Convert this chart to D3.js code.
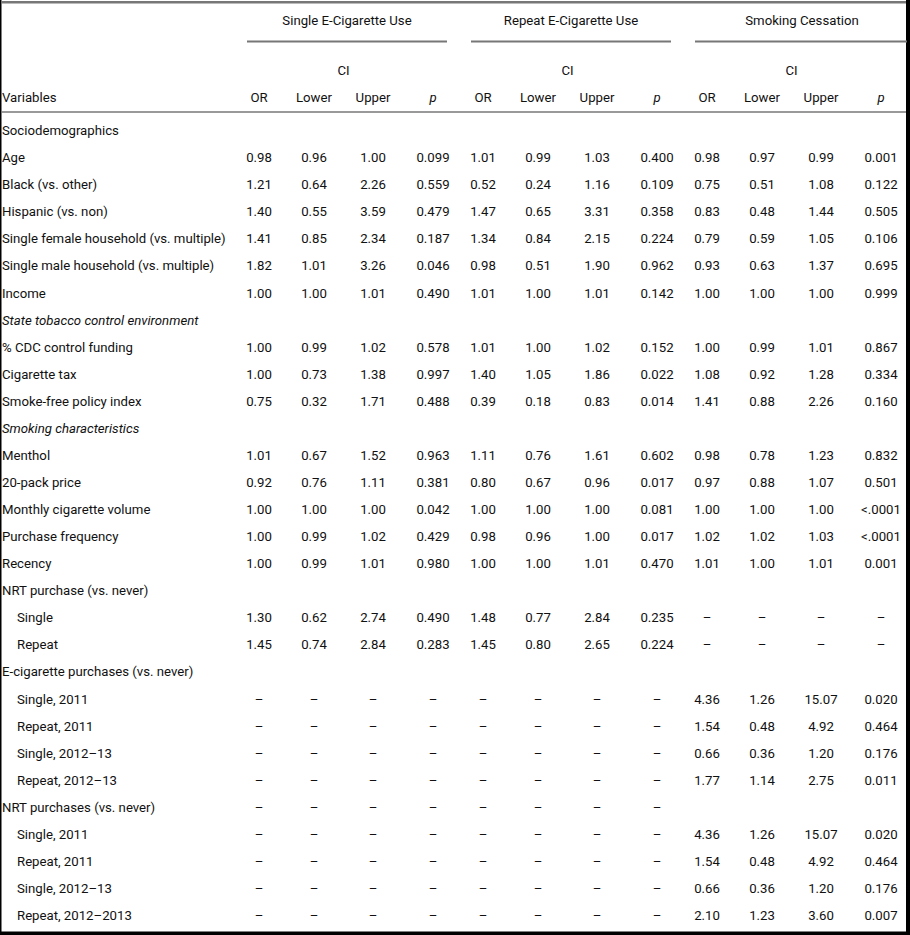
<!DOCTYPE html>
<html>
<head>
<meta charset="utf-8">
<script src="https://cdn.jsdelivr.net/npm/d3@7/dist/d3.min.js"></script>
<style>
  html, body { margin: 0; padding: 0; background: #fff; }
  svg { display: block; }
  text { font-family: Roboto, "Liberation Sans", Arial, sans-serif; font-size: 13.2px; fill: #111; }
</style>
</head>
<body>
<svg id="tbl" width="910" height="935"></svg>
<script>
// Odds-ratio table: three outcome groups, each with OR / CI lower / CI upper / p.

const groups = ["Single E-Cigarette Use", "Repeat E-Cigarette Use", "Smoking Cessation"];
const columns = ["OR", "Lower", "Upper", "p"];

// kind: "plain" section label, "italic" section label, "item" row, "sub" indented row
const rowLabels = [
  "Sociodemographics", "Age", "Black (vs. other)", "Hispanic (vs. non)",
  "Single female household (vs. multiple)", "Single male household (vs. multiple)", "Income",
  "State tobacco control environment", "% CDC control funding", "Cigarette tax", "Smoke-free policy index",
  "Smoking characteristics", "Menthol", "20-pack price", "Monthly cigarette volume",
  "Purchase frequency", "Recency", "NRT purchase (vs. never)", "Single", "Repeat",
  "E-cigarette purchases (vs. never)", "Single, 2011", "Repeat, 2011", "Single, 2012\u201313", "Repeat, 2012\u201313",
  "NRT purchases (vs. never)", "Single, 2011", "Repeat, 2011", "Single, 2012\u201313", "Repeat, 2012\u20132013"
];
const rowKinds = [
  "plain", "item", "item", "item", "item", "item", "item",
  "italic", "item", "item", "item",
  "italic", "item", "item", "item", "item", "item", "plain", "sub", "sub",
  "plain", "sub", "sub", "sub", "sub",
  "plain", "sub", "sub", "sub", "sub"
];

const D = "\u2013";
const dash4 = [D, D, D, D];
const none = null;

const singleUse = [
  none,
  ["0.98", "0.96", "1.00", "0.099"],
  ["1.21", "0.64", "2.26", "0.559"],
  ["1.40", "0.55", "3.59", "0.479"],
  ["1.41", "0.85", "2.34", "0.187"],
  ["1.82", "1.01", "3.26", "0.046"],
  ["1.00", "1.00", "1.01", "0.490"],
  none,
  ["1.00", "0.99", "1.02", "0.578"],
  ["1.00", "0.73", "1.38", "0.997"],
  ["0.75", "0.32", "1.71", "0.488"],
  none,
  ["1.01", "0.67", "1.52", "0.963"],
  ["0.92", "0.76", "1.11", "0.381"],
  ["1.00", "1.00", "1.00", "0.042"],
  ["1.00", "0.99", "1.02", "0.429"],
  ["1.00", "0.99", "1.01", "0.980"],
  none,
  ["1.30", "0.62", "2.74", "0.490"],
  ["1.45", "0.74", "2.84", "0.283"],
  none,
  dash4, dash4, dash4, dash4,
  dash4,
  dash4, dash4, dash4, dash4
];

const repeatUse = [
  none,
  ["1.01", "0.99", "1.03", "0.400"],
  ["0.52", "0.24", "1.16", "0.109"],
  ["1.47", "0.65", "3.31", "0.358"],
  ["1.34", "0.84", "2.15", "0.224"],
  ["0.98", "0.51", "1.90", "0.962"],
  ["1.01", "1.00", "1.01", "0.142"],
  none,
  ["1.01", "1.00", "1.02", "0.152"],
  ["1.40", "1.05", "1.86", "0.022"],
  ["0.39", "0.18", "0.83", "0.014"],
  none,
  ["1.11", "0.76", "1.61", "0.602"],
  ["0.80", "0.67", "0.96", "0.017"],
  ["1.00", "1.00", "1.00", "0.081"],
  ["0.98", "0.96", "1.00", "0.017"],
  ["1.00", "1.00", "1.01", "0.470"],
  none,
  ["1.48", "0.77", "2.84", "0.235"],
  ["1.45", "0.80", "2.65", "0.224"],
  none,
  dash4, dash4, dash4, dash4,
  dash4,
  dash4, dash4, dash4, dash4
];

const cessation = [
  none,
  ["0.98", "0.97", "0.99", "0.001"],
  ["0.75", "0.51", "1.08", "0.122"],
  ["0.83", "0.48", "1.44", "0.505"],
  ["0.79", "0.59", "1.05", "0.106"],
  ["0.93", "0.63", "1.37", "0.695"],
  ["1.00", "1.00", "1.00", "0.999"],
  none,
  ["1.00", "0.99", "1.01", "0.867"],
  ["1.08", "0.92", "1.28", "0.334"],
  ["1.41", "0.88", "2.26", "0.160"],
  none,
  ["0.98", "0.78", "1.23", "0.832"],
  ["0.97", "0.88", "1.07", "0.501"],
  ["1.00", "1.00", "1.00", "<.0001"],
  ["1.02", "1.02", "1.03", "<.0001"],
  ["1.01", "1.00", "1.01", "0.001"],
  none,
  dash4, dash4,
  none,
  ["4.36", "1.26", "15.07", "0.020"],
  ["1.54", "0.48", "4.92", "0.464"],
  ["0.66", "0.36", "1.20", "0.176"],
  ["1.77", "1.14", "2.75", "0.011"],
  none,
  ["4.36", "1.26", "15.07", "0.020"],
  ["1.54", "0.48", "4.92", "0.464"],
  ["0.66", "0.36", "1.20", "0.176"],
  ["2.10", "1.23", "3.60", "0.007"]
];

const groupValues = [singleUse, repeatUse, cessation];

const W = 910, H = 935;
const svg = d3.select("#tbl");
const lineCol = "#777";

// Row centres.
const y = d3.scaleLinear().domain([0, rowLabels.length - 1]).range([130.5, 915.5]);
// Group left edges, and column centres inside a group.
const gx = d3.scaleLinear().domain([0, groups.length - 1]).range([247, 695]);
const cx = d3.scaleOrdinal().domain(columns).range([12, 67, 126, 186]);
const groupWidth = 200;

// Frame.
svg.append("rect").attr("x", 0).attr("y", 0).attr("width", 1.5).attr("height", H).attr("fill", "#000");
svg.append("rect").attr("x", 1).attr("y", 1).attr("width", W - 2).attr("height", 2.5).attr("fill", lineCol);
svg.append("rect").attr("x", W - 4).attr("y", 0).attr("width", 4).attr("height", H).attr("fill", "#000");
svg.append("rect").attr("x", 0).attr("y", H - 3.5).attr("width", W).attr("height", 3.5).attr("fill", "#000");

// Header separator.
svg.append("line").attr("x1", 1).attr("x2", W - 4).attr("y1", 112).attr("y2", 112)
  .attr("stroke", lineCol).attr("stroke-width", 1.6);

// Group headers.
const gh = svg.append("g").selectAll("g").data(groups).join("g")
  .attr("transform", (d, i) => `translate(${gx(i)},0)`);
gh.append("text")
  .attr("x", (d, i) => i === 2 ? 107 : groupWidth / 2)
  .attr("y", 20.5).attr("dy", "0.35em").attr("text-anchor", "middle")
  .text((d) => d);
gh.append("line")
  .attr("x1", 0).attr("x2", (d, i) => i === 2 ? W - gx(i) - 3 : groupWidth)
  .attr("y1", 41.5).attr("y2", 41.5)
  .attr("stroke", lineCol).attr("stroke-width", 2);
gh.append("text")
  .attr("x", (cx("Lower") + cx("Upper")) / 2)
  .attr("y", 70.5).attr("dy", "0.35em").attr("text-anchor", "middle")
  .text("CI");
gh.selectAll("text.col").data(columns).join("text")
  .attr("class", "col")
  .attr("x", (c) => cx(c))
  .attr("y", 97.5).attr("dy", "0.35em").attr("text-anchor", "middle")
  .style("font-style", (c) => c === "p" ? "italic" : null)
  .text((c) => c);

svg.append("text").attr("x", 2).attr("y", 97.5).attr("dy", "0.35em").text("Variables");

// Row labels.
svg.append("g").selectAll("text").data(rowLabels).join("text")
  .attr("x", (d, i) => rowKinds[i] === "sub" ? 17 : 2)
  .attr("y", (d, i) => y(i)).attr("dy", "0.35em")
  .style("font-style", (d, i) => rowKinds[i] === "italic" ? "italic" : null)
  .text((d) => d);

// Cells.
const cells = [];
groupValues.forEach((vals, g) => {
  vals.forEach((row, r) => {
    if (!row) return;
    row.forEach((v, c) => cells.push({ g, r, col: columns[c], v }));
  });
});
svg.append("g").selectAll("text").data(cells).join("text")
  .attr("x", (d) => gx(d.g) + cx(d.col))
  .attr("y", (d) => y(d.r)).attr("dy", "0.35em")
  .attr("text-anchor", "middle")
  .text((d) => d.v);
</script>
</body>
</html>
